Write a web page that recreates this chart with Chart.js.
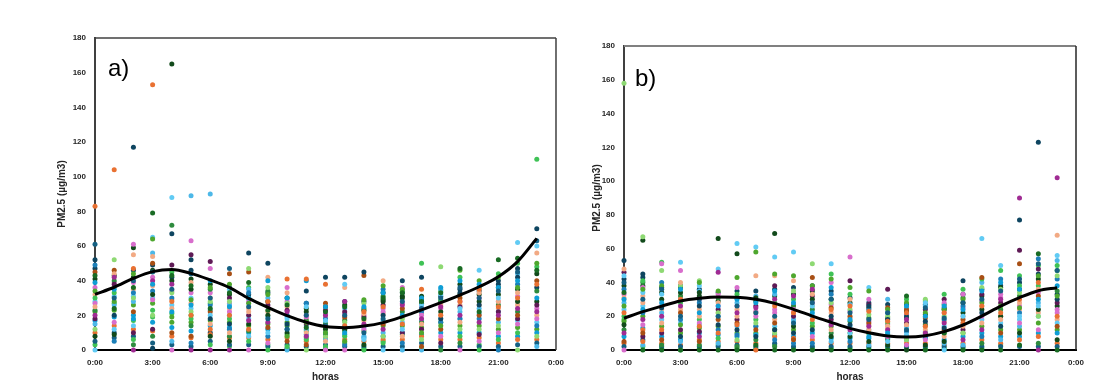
<!DOCTYPE html>
<html>
<head>
<meta charset="utf-8">
<script src="https://cdn.jsdelivr.net/npm/chart.js@4.4.1/dist/chart.umd.min.js"></script>
<style>
  html, body { margin: 0; padding: 0; background: #fff; }
  #wrapA { position: absolute; left: 0; top: 0; width: 572px; height: 391px; }
  #wrapB { position: absolute; left: 572px; top: 0; width: 543px; height: 391px; }
</style>
</head>
<body>
<div id="wrapA"><canvas id="chartA"></canvas></div>
<div id="wrapB"><canvas id="chartB"></canvas></div>
<script>
// hours of the day (x) and their tick labels
const hours = [0,1,2,3,4,5,6,7,8,9,10,11,12,13,14,15,16,17,18,19,20,21,22,23];
const hourLabels = ["0:00","3:00","6:00","9:00","12:00","15:00","18:00","21:00","0:00"];

// one colour per series (day)
const seriesColors = [
  "#156082", "#E97132", "#196B24", "#0F9ED5", "#A02B93", "#4EA72E",
  "#0E4560", "#61CBF4", "#F2AA84", "#8ED973", "#D86ECC", "#A84F15",
  "#124A1B", "#5E1A55", "#3FC256", "#1C7FB8", "#4DB8E8", "#2E8B3E",
  "#156082", "#E97132", "#0F9ED5", "#4EA72E", "#61CBF4", "#F2AA84",
  "#D86ECC", "#124A1B", "#0E4560", "#3FC256"
];

// PM2.5 per hour (rows) for every series (columns) - panel a)
const pm25A = [
  [61,83,43,39,20,34,52,0,25,12,27,45,8,18,30,49,15,23, 5,10,17,22,28,32,36,41,47,3],
  [30,104,24,35,42,28,20,12,44,52,16,46,9,38,33,5,26,40, 7,14,19,23,31,36,39,43,10,27],
  [40,47,36,18,0,44,117,14,55,30,61,22,59,10,6,33,28,3, 8,12,20,26,31,35,39,42,46,17],
  [45,153,79,38,40,64,1,65,54,20,29,50,32,12,23,34,56,8, 4,11,16,27,30,37,42,46,49,19],
  [35,28,43,22,38,16,67,88,24,33,0,10,165,49,45,30,5,72, 3,8,13,19,26,29,34,40,42,21],
  [44,20,37,26,0,29,52,30,39,22,63,8,35,55,18,4,89,14, 2,7,11,16,24,27,33,41,46,20],
  [30,12,24,40,0,36,18,20,15,28,47,22,8,51,3,26,90,35, 5,9,14,17,23,30,33,38,10,27],
  [47,20,33,25,0,38,15,35,10,28,22,44,5,30,18,12,26,8, 3,7,13,16,20,24,27,32,36,2],
  [25,12,39,30,17,27,56,8,22,47,0,45,15,20,5,33,35,11, 3,7,10,14,18,24,28,30,32,36],
  [18,28,23,40,16,32,50,10,42,36,4,13,20,26,0,8,30,34, 2,6,12,15,19,22,25,28,33,3],
  [12,41,26,30,22,8,15,18,33,27,36,5,10,23,2,20,0,14, 3,7,12,16,19,25,28,30,1,9],
  [20,41,13,40,8,16,34,25,10,0,19,3,22,15,6,27,12,17, 2,5,9,11,14,18,20,24,27,7],
  [14,38,22,25,20,10,42,17,5,8,0,27,12,23,2,18,6,15, 3,7,10,13,16,19,21,25,9,1],
  [20,14,25,10,28,5,42,38,36,16,0,19,12,22,8,3,24,17, 2,6,9,11,14,18,21,26,28,4],
  [10,22,18,25,15,29,45,6,21,27,12,43,3,19,0,14,8,24, 2,5,7,11,13,17,20,23,28,1],
  [18,25,30,33,12,37,20,0,40,8,22,15,28,26,4,35,10,31, 2,6,8,14,17,21,24,29,33,5],
  [28,15,33,20,26,35,40,12,8,18,36,24,30,10,34,4,0,22, 2,6,10,14,16,20,27,31,33,9],
  [24,35,28,30,18,10,42,26,15,6,20,2,31,12,50,22,0,16, 4,8,9,13,17,21,25,27,29,1],
  [30,20,33,36,25,14,18,32,26,48,8,12,22,4,29,16,35,0, 2,6,10,16,18,20,24,28,31,34],
  [36,28,47,40,20,46,33,24,16,12,0,30,38,25,8,18,22,4, 2,6,10,14,18,26,28,32,35,42],
  [30,35,22,38,16,40,26,46,33,12,5,20,28,9,0,18,24,36, 2,7,10,14,21,26,30,32,34,3],
  [34,25,52,36,20,42,38,30,28,14,10,18,32,22,6,0,16,26, 2,4,8,12,22,24,28,36,40,44],
  [45,30,53,40,24,36,42,62,33,0,15,20,28,18,10,38,44,22, 3,6,8,13,17,26,31,35,47,50],
  [63,38,46,30,22,50,70,60,56,8,18,40,44,26,110,14,2,34, 4,6,10,12,16,20,24,28,36,48]
];
const trendA = [32.1,36.2,41.3,45.2,46.5,44.2,40.4,36.0,29.8,24.6,19.8,16.0,13.5,12.9,13.8,15.8,19.2,23.1,27.3,31.7,36.5,42.3,51.0,64.4];

// PM2.5 per hour (rows) for every series (columns) - panel b)
const pm25B = [
  [40,22,34,30,10,26,53,44,48,158,0,5,15,46,20,36,28,12, 2,4,8,17,24,31,33,38,42,18],
  [30,5,0,24,18,36,45,34,28,67,15,10,65,8,41,22,3,40, 6,12,13,20,26,32,37,38,43,2],
  [36,12,0,28,20,38,25,33,16,47,51,6,30,10,52,40,22,3, 2,4,8,14,18,24,26,34,37,1],
  [20,30,0,36,26,15,8,52,40,38,47,22,34,12,28,18,5,32, 2,3,6,10,16,24,30,37,38,0],
  [30,14,0,22,8,40,26,38,20,41,16,5,34,11,18,28,35,3, 2,6,10,13,15,24,30,32,36,1],
  [20,10,0,26,46,35,15,48,28,22,33,18,66,24,7,12,4,31, 2,5,9,14,20,22,26,29,34,3],
  [26,15,0,30,22,43,12,63,20,6,37,16,57,18,33,9,28,2, 3,5,8,10,14,24,26,31,35,1],
  [22,0,3,28,25,58,8,61,44,16,20,12,31,26,18,14,32,6, 2,4,9,10,14,22,23,29,35,1],
  [20,26,0,35,30,45,12,55,44,10,22,16,69,38,28,6,33,2, 4,8,9,12,14,18,24,32,36,3],
  [16,22,0,28,32,44,10,58,41,35,24,6,14,20,30,4,18,26, 2,7,8,12,17,22,27,33,37,1],
  [28,18,0,22,36,38,12,26,33,51,8,43,30,32,16,4,20,24, 2,6,10,14,20,26,28,35,38,1],
  [30,24,0,37,15,42,20,51,12,28,40,25,8,18,45,33,5,10, 2,4,7,14,16,22,27,30,35,1],
  [22,26,0,18,12,37,15,10,30,24,55,20,8,41,33,5,27,17, 2,4,7,10,14,19,23,28,31,1],
  [18,23,0,8,14,35,26,37,12,21,30,16,5,27,10,24,3,19, 2,4,7,10,12,15,17,25,28,1],
  [22,17,0,10,12,24,18,5,14,20,8,25,3,36,16,22,30,6, 2,4,7,9,11,13,15,19,27,1],
  [12,22,32,26,18,28,20,9,15,6,3,24,0,16,30,11,25,19, 2,4,6,8,13,14,21,23,27,1],
  [25,14,0,20,10,22,17,28,12,30,6,19,3,24,29,8,26,15, 2,4,7,10,11,14,16,21,27,1],
  [19,22,10,26,16,24,13,0,8,20,28,12,5,30,33,18,4,27, 2,3,6,10,14,17,22,24,25,1],
  [28,16,0,24,6,30,41,20,14,10,33,18,22,12,36,26,3,31, 2,4,8,10,16,20,25,28,33,1],
  [30,26,0,35,12,28,22,66,16,37,20,43,24,33,42,8,40,4, 2,6,10,14,18,26,29,32,36,1],
  [35,22,0,40,30,26,14,50,18,36,33,10,20,28,47,42,6,24, 2,4,8,12,16,20,31,37,38,3],
  [42,30,3,36,90,25,77,20,28,34,16,51,10,59,38,22,14,32, 2,6,8,12,18,24,26,36,40,44],
  [51,40,57,30,0,44,123,26,36,20,12,32,24,48,38,54,28,4, 2,8,10,16,20,22,34,42,45,50],
  [47,20,0,38,102,32,30,56,68,44,24,14,6,28,50,42,53,35, 2,4,10,12,16,18,22,26,33,47]
];
const trendB = [18.8,22.7,26.0,29.0,30.6,31.4,31.2,30.0,27.6,24.1,20.1,16.4,12.8,10.2,8.3,7.7,8.5,10.9,14.8,20.1,26.0,31.0,35.1,36.9];

const tickFont = { family: "'Liberation Sans', Arial, sans-serif", size: 8, weight: "bold" };
const titleFont = { family: "'Liberation Sans', Arial, sans-serif", size: 10, weight: "bold" };

// top / right frame lines and the panel letter
const framePlugin = {
  id: "frame",
  beforeDatasetsDraw(chart, args, o) {
    const { ctx, chartArea: a } = chart;
    ctx.save();
    ctx.lineWidth = o.topWidth;
    ctx.strokeStyle = o.topColor;
    ctx.beginPath(); ctx.moveTo(a.left, a.top); ctx.lineTo(a.right, a.top); ctx.stroke();
    ctx.lineWidth = o.rightWidth;
    ctx.strokeStyle = o.rightColor;
    ctx.beginPath(); ctx.moveTo(a.right, a.top); ctx.lineTo(a.right, a.bottom); ctx.stroke();
    ctx.font = "24px 'Liberation Sans', Arial, sans-serif";
    ctx.fillStyle = "#000";
    ctx.textBaseline = "alphabetic";
    ctx.fillText(o.label, a.left + o.labelX, a.top + o.labelY);
    ctx.restore();
  }
};

function makeChart(id, values, trend, cfg) {
  const datasets = seriesColors.map((color, s) => ({
    type: "scatter",
    data: hours.map(h => ({ x: h, y: values[h][s] })),
    backgroundColor: color,
    borderWidth: 0,
    pointRadius: 2.5,
    pointHoverRadius: 2.5,
    clip: false,
    order: 1
  }));
  datasets.unshift({
    type: "line",
    data: hours.map(h => ({ x: h, y: trend[h] })),
    borderColor: "#000",
    borderWidth: 3,
    pointRadius: 0,
    cubicInterpolationMode: "monotone",
    clip: false,
    order: 0
  });

  return new Chart(document.getElementById(id), {
    type: "scatter",
    data: { datasets },
    plugins: [framePlugin],
    options: {
      responsive: true,
      maintainAspectRatio: false,
      animation: false,
      layout: { padding: { left: 0, top: cfg.top, right: cfg.right, bottom: 0 } },
      plugins: {
        legend: { display: false },
        tooltip: { enabled: false },
        frame: cfg.frame
      },
      scales: {
        x: {
          type: "linear",
          min: 0, max: 24,
          grid: { display: false, drawTicks: false },
          border: { display: true, color: "#000", width: 2 },
          ticks: {
            stepSize: 3, autoSkip: false, maxRotation: 0, padding: 8,
            color: "#262626", font: tickFont,
            callback: v => hourLabels[v / 3]
          },
          title: { display: true, text: "horas", color: "#262626", font: titleFont, padding: { top: 0, bottom: 8 } },
          afterFit: s => { s.height = 41; }
        },
        y: {
          min: 0, max: 180,
          grid: { display: false, drawTicks: false },
          border: { display: true, color: "#404040", width: 2 },
          ticks: { stepSize: 20, padding: 9, color: "#262626", font: tickFont },
          title: { display: true, text: "PM2.5 (µg/m3)", color: "#262626", font: titleFont, padding: { top: cfg.titlePad, bottom: 0 } },
          afterFit: s => { s.width = cfg.yWidth; }
        }
      }
    }
  });
}

makeChart("chartA", pm25A, trendA, {
  top: 38, right: 15, yWidth: 95, titlePad: 56,
  frame: { label: "a)", labelX: 13, labelY: 38, topColor: "#404040", topWidth: 1.5, rightColor: "#404040", rightWidth: 1.5 }
});
makeChart("chartB", pm25B, trendB, {
  top: 46, right: 39, yWidth: 52, titlePad: 19,
  frame: { label: "b)", labelX: 11, labelY: 40, topColor: "#808080", topWidth: 2, rightColor: "#262626", rightWidth: 1.5 }
});
</script>
</body>
</html>
